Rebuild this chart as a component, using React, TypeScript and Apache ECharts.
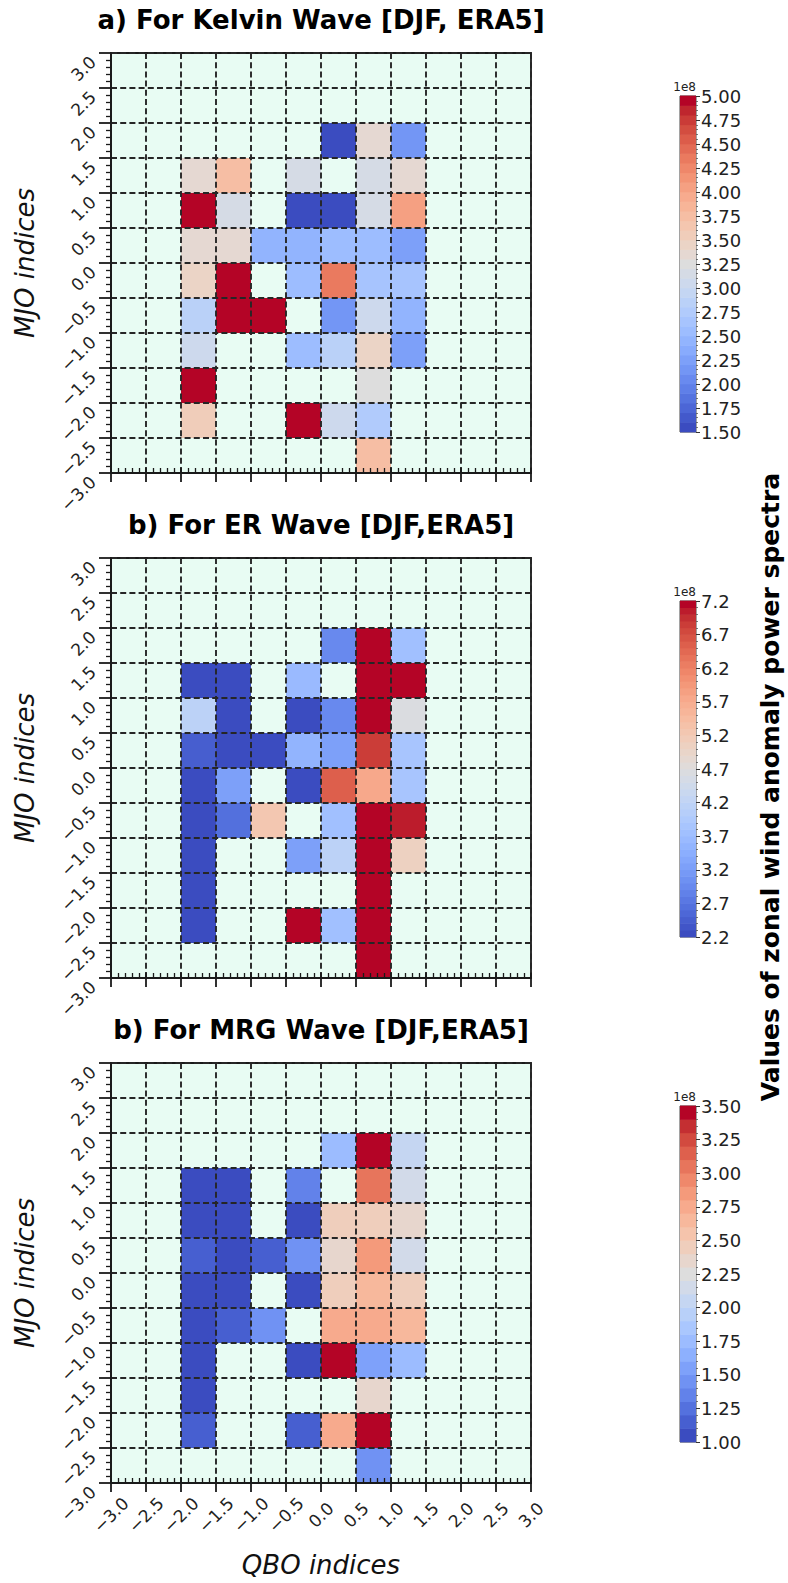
import React, { useEffect, useRef } from "react";
import * as echarts from "echarts";

// ---- tick labels (QBO on x, MJO on y) ----
const qboTicks = [-3.0, -2.5, -2.0, -1.5, -1.0, -0.5, 0.0, 0.5, 1.0, 1.5, 2.0, 2.5, 3.0];
const mjoTicks = [-3.0, -2.5, -2.0, -1.5, -1.0, -0.5, 0.0, 0.5, 1.0, 1.5, 2.0, 2.5, 3.0];

// ---- cells: [QBO bin start, MJO bin start, power (x1e8)] ----
const kelvinCells: [number, number, number][] = [
  [0.0, 1.5, 1.55], [0.5, 1.5, 3.35], [1.0, 1.5, 2.1],
  [-2.0, 1.0, 3.35], [-1.5, 1.0, 3.7], [-0.5, 1.0, 3.15], [0.5, 1.0, 3.15], [1.0, 1.0, 3.35],
  [-2.0, 0.5, 5.3], [-1.5, 0.5, 3.15], [-0.5, 0.5, 1.55], [0.0, 0.5, 1.55], [0.5, 0.5, 3.15], [1.0, 0.5, 4.05],
  [-2.0, 0.0, 3.35], [-1.5, 0.0, 3.35], [-1.0, 0.0, 2.4], [-0.5, 0.0, 2.45], [0.0, 0.0, 2.55], [0.5, 0.0, 2.5], [1.0, 0.0, 2.25],
  [-2.0, -0.5, 3.45], [-1.5, -0.5, 5.3], [-0.5, -0.5, 2.55], [0.0, -0.5, 4.35], [0.5, -0.5, 2.65], [1.0, -0.5, 2.65],
  [-2.0, -1.0, 2.85], [-1.5, -1.0, 5.3], [-1.0, -1.0, 5.3], [0.0, -1.0, 2.15], [0.5, -1.0, 3.05], [1.0, -1.0, 2.45],
  [-2.0, -1.5, 3.05], [-0.5, -1.5, 2.5], [0.0, -1.5, 2.8], [0.5, -1.5, 3.45], [1.0, -1.5, 2.25],
  [-2.0, -2.0, 5.3], [0.5, -2.0, 3.25],
  [-2.0, -2.5, 3.5], [-0.5, -2.5, 5.3], [0.0, -2.5, 3.05], [0.5, -2.5, 2.75],
  [0.5, -3.0, 3.7],
];

const erCells: [number, number, number][] = [
  [0.0, 1.5, 2.9], [0.5, 1.5, 7.5], [1.0, 1.5, 3.75],
  [-2.0, 1.0, 2.1], [-1.5, 1.0, 2.1], [-0.5, 1.0, 3.65], [0.5, 1.0, 7.5], [1.0, 1.0, 7.5],
  [-2.0, 0.5, 4.15], [-1.5, 0.5, 2.1], [-0.5, 0.5, 2.15], [0.0, 0.5, 2.9], [0.5, 0.5, 7.5], [1.0, 0.5, 4.6],
  [-2.0, 0.0, 2.45], [-1.5, 0.0, 2.15], [-1.0, 0.0, 2.15], [-0.5, 0.0, 3.55], [0.0, 0.0, 3.2], [0.5, 0.0, 6.85], [1.0, 0.0, 3.85],
  [-2.0, -0.5, 2.15], [-1.5, -0.5, 3.2], [-0.5, -0.5, 2.15], [0.0, -0.5, 6.55], [0.5, -0.5, 5.7], [1.0, -0.5, 3.85],
  [-2.0, -1.0, 2.15], [-1.5, -1.0, 2.6], [-1.0, -1.0, 5.25], [0.0, -1.0, 3.75], [0.5, -1.0, 7.5], [1.0, -1.0, 7.0],
  [-2.0, -1.5, 2.15], [-0.5, -1.5, 3.2], [0.0, -1.5, 4.1], [0.5, -1.5, 7.5], [1.0, -1.5, 5.05],
  [-2.0, -2.0, 2.15], [0.5, -2.0, 7.5],
  [-2.0, -2.5, 2.15], [-0.5, -2.5, 7.5], [0.0, -2.5, 3.75], [0.5, -2.5, 7.5],
  [0.5, -3.0, 7.5],
];

const mrgCells: [number, number, number][] = [
  [0.0, 1.5, 1.75], [0.5, 1.5, 3.6], [1.0, 1.5, 2.05],
  [-2.0, 1.0, 0.95], [-1.5, 1.0, 0.95], [-0.5, 1.0, 1.3], [0.5, 1.0, 3.0], [1.0, 1.0, 2.15],
  [-2.0, 0.5, 0.95], [-1.5, 0.5, 0.95], [-0.5, 0.5, 0.95], [0.0, 0.5, 2.45], [0.5, 0.5, 2.45], [1.0, 0.5, 2.35],
  [-2.0, 0.0, 1.12], [-1.5, 0.0, 0.95], [-1.0, 0.0, 1.12], [-0.5, 0.0, 1.45], [0.0, 0.0, 2.35], [0.5, 0.0, 2.88], [1.0, 0.0, 2.15],
  [-2.0, -0.5, 0.95], [-1.5, -0.5, 0.95], [-0.5, -0.5, 0.95], [0.0, -0.5, 2.45], [0.5, -0.5, 2.65], [1.0, -0.5, 2.4],
  [-2.0, -1.0, 0.95], [-1.5, -1.0, 1.12], [-1.0, -1.0, 1.45], [0.0, -1.0, 2.72], [0.5, -1.0, 2.72], [1.0, -1.0, 2.62],
  [-2.0, -1.5, 0.95], [-0.5, -1.5, 0.95], [0.0, -1.5, 3.6], [0.5, -1.5, 1.5], [1.0, -1.5, 1.75],
  [-2.0, -2.0, 0.95], [0.5, -2.0, 2.35],
  [-2.0, -2.5, 1.12], [-0.5, -2.5, 1.12], [0.0, -2.5, 2.72], [0.5, -2.5, 3.6],
  [0.5, -3.0, 1.45],
];

const panelTitles = [
  "a) For Kelvin Wave [DJF, ERA5]",
  "b) For ER Wave [DJF,ERA5]",
  "b) For MRG Wave [DJF,ERA5]",
];
const cbarMin = [1.5, 2.2, 1.0];
const cbarMax = [5.0, 7.2, 3.5];
const cbarTickStep = [0.25, 0.5, 0.25];
const cbarDecimals = [2, 1, 2];
const cbarLevels = [35, 50, 25];
const cellSize = 0.5;
const sharedLabel = "Values of zonal wind anomaly power spectra";

// matplotlib "coolwarm" (Moreland) control points
const COOLWARM = [
  [59, 76, 192], [68, 90, 204], [77, 104, 215], [87, 117, 225], [98, 130, 234],
  [108, 142, 241], [119, 154, 247], [130, 165, 251], [141, 176, 254], [152, 185, 255],
  [163, 194, 255], [174, 201, 253], [184, 208, 249], [194, 213, 244], [204, 217, 238],
  [213, 219, 230], [221, 221, 221], [229, 216, 209], [236, 211, 197], [241, 204, 184],
  [245, 196, 172], [247, 187, 160], [247, 177, 148], [247, 166, 137], [244, 154, 123],
  [241, 141, 111], [236, 127, 99], [229, 112, 88], [222, 96, 77], [213, 80, 66],
  [203, 62, 56], [192, 40, 47], [180, 4, 38],
];
function coolwarm(t: number): string {
  const tt = Math.max(0, Math.min(1, t)) * (COOLWARM.length - 1);
  const i = Math.min(COOLWARM.length - 2, Math.floor(tt));
  const f = tt - i;
  const a = COOLWARM[i], b = COOLWARM[i + 1];
  const c = a.map((v, k) => Math.round(v + (b[k] - v) * f));
  return `rgb(${c[0]},${c[1]},${c[2]})`;
}
function levelColor(v: number, p: number): string {
  const n = cbarLevels[p];
  const step = (cbarMax[p] - cbarMin[p]) / n;
  let k = Math.floor((v - cbarMin[p]) / step + 1e-9);
  k = Math.max(0, Math.min(n - 1, k));
  return coolwarm(k / (n - 1));
}

const FONT = "DejaVu Sans";
const INK = "#1a1a1a";
const GRIDINK = "#262626";
const PANEL_LEFT = 111;
const PANEL_SIZE = 420;
const PANEL_TOPS = [53, 558, 1063];
const CB_LEFT = 680;
const CB_W = 16;
const CB_H = 336;
const CB_OFFSET = 43;

function fmtAxis(v: number) {
  return v.toFixed(1).replace("-", "\u2212");
}

export default function App() {
  const ref = useRef<HTMLDivElement>(null);
  useEffect(() => {
    document.body.style.margin = "0";
    if (!ref.current) return;
    const chart = echarts.init(ref.current, undefined, { renderer: "svg" });
    const allCells = [kelvinCells, erCells, mrgCells];
    const grids: any[] = [];
    const xAxes: any[] = [];
    const yAxes: any[] = [];
    const series: any[] = [];
    const graphics: any[] = [];

    for (let p = 0; p < 3; p++) {
      const top = PANEL_TOPS[p];
      grids.push({
        left: PANEL_LEFT, top, width: PANEL_SIZE, height: PANEL_SIZE,
        show: true, backgroundColor: "#e8fcf3", borderColor: INK, borderWidth: 1.8,
      });
      grids.push({
        left: CB_LEFT, top: top + CB_OFFSET, width: CB_W, height: CB_H,
        show: true, backgroundColor: "transparent", borderColor: "#444", borderWidth: 1,
      });
      const gMain = 2 * p, gCb = 2 * p + 1;
      const isLast = p === 2;
      const split = { show: true, lineStyle: { color: GRIDINK, width: 1.9, type: [6, 3.2] } };
      // main x axis
      xAxes.push({
        type: "value", gridIndex: gMain, min: qboTicks[0], max: qboTicks[qboTicks.length - 1],
        interval: cellSize, position: "bottom", z: 5,
        axisLine: { show: true, onZero: false, lineStyle: { color: INK, width: 1.8 } },
        axisTick: { show: true, length: 9, lineStyle: { color: INK, width: 1.8 } },
        minorTick: { show: false },
        splitLine: split,
        axisLabel: {
          show: isLast, rotate: 45, align: "center", verticalAlign: "middle", margin: 32,
          fontSize: 17, color: "#222", fontFamily: FONT, formatter: fmtAxis,
          showMinLabel: true, showMaxLabel: true,
        },
        name: isLast ? "QBO indices" : "", nameLocation: "middle", nameGap: 69,
        nameTextStyle: { fontSize: 26, fontStyle: "italic", color: "#111", fontFamily: FONT },
      });
      // inner minor ticks on x
      xAxes.push({
        type: "value", gridIndex: gMain, min: qboTicks[0], max: qboTicks[qboTicks.length - 1],
        interval: cellSize, position: "bottom", z: 5,
        axisLine: { show: false, onZero: false },
        axisTick: { show: true, inside: true, length: 5, lineStyle: { color: INK, width: 1.8 } },
        minorTick: { show: true, splitNumber: 5, length: 5, lineStyle: { color: INK, width: 1.3 } },
        splitLine: { show: false },
        axisLabel: { show: false },
      });
      // colorbar x axis
      xAxes.push({ type: "value", gridIndex: gCb, min: 0, max: 1, show: false });

      yAxes.push({
        type: "value", gridIndex: gMain, min: mjoTicks[0], max: mjoTicks[mjoTicks.length - 1],
        interval: cellSize, position: "left", z: 5,
        axisLine: { show: true, onZero: false, lineStyle: { color: INK, width: 1.8 } },
        axisTick: { show: true, length: 12, lineStyle: { color: INK, width: 1.8 } },
        minorTick: { show: true, splitNumber: 5, length: 5, lineStyle: { color: INK, width: 1.3 } },
        splitLine: split,
        axisLabel: {
          rotate: 45, align: "right", verticalAlign: "top", margin: 24,
          fontSize: 17, color: "#222", fontFamily: FONT, formatter: fmtAxis,
          showMinLabel: true, showMaxLabel: true,
        },
        name: "MJO indices", nameLocation: "middle", nameGap: 73, nameRotate: 90,
        nameTextStyle: { fontSize: 26, fontStyle: "italic", color: "#111", fontFamily: FONT },
      });
      const dec = cbarDecimals[p];
      yAxes.push({
        type: "value", gridIndex: gCb, min: cbarMin[p], max: cbarMax[p], interval: cbarTickStep[p],
        position: "right", z: 5,
        axisLine: { show: false, onZero: false },
        axisTick: { show: true, length: 4, lineStyle: { color: "#333", width: 1 } },
        minorTick: { show: true, splitNumber: 5, length: 2, lineStyle: { color: "#555", width: 0.8 } },
        splitLine: { show: false },
        axisLabel: {
          margin: 5, fontSize: 18, color: "#222", fontFamily: FONT,
          formatter: (v: number) => v.toFixed(dec), showMinLabel: true, showMaxLabel: true,
        },
        name: "1e8", nameLocation: "end", nameGap: 3,
        nameTextStyle: { fontSize: 12, color: "#222", fontFamily: FONT, align: "right", verticalAlign: "bottom" },
      });

      const pp = p;
      series.push({
        type: "custom", xAxisIndex: 3 * p, yAxisIndex: 2 * p, z: 2,
        data: allCells[p],
        renderItem: (params: any, api: any) => {
          const x0 = api.value(0), y0 = api.value(1), v = api.value(2);
          const a = api.coord([x0, y0 + cellSize]);
          const b = api.coord([x0 + cellSize, y0]);
          return {
            type: "rect",
            shape: { x: a[0], y: a[1], width: b[0] - a[0], height: b[1] - a[1] },
            style: { fill: levelColor(v, pp), stroke: null },
          };
        },
      });
      // colorbar bands (legend rendering of the colour scale)
      const n = cbarLevels[p];
      const step = (cbarMax[p] - cbarMin[p]) / n;
      const bands: number[][] = [];
      for (let k = 0; k < n; k++) bands.push([cbarMin[p] + k * step, cbarMin[p] + (k + 1) * step, k]);
      series.push({
        type: "custom", xAxisIndex: 3 * p + 2, yAxisIndex: 2 * p + 1, z: 2,
        data: bands,
        renderItem: (params: any, api: any) => {
          const lo = api.value(0), hi = api.value(1), k = api.value(2);
          const a = api.coord([0, hi]);
          const b = api.coord([1, lo]);
          return {
            type: "rect",
            shape: { x: a[0], y: a[1] - 0.3, width: b[0] - a[0], height: b[1] - a[1] + 0.6 },
            style: { fill: coolwarm(k / (n - 1)), stroke: null },
          };
        },
      });

      graphics.push({
        type: "text", x: PANEL_LEFT + PANEL_SIZE / 2, y: top - 33,
        style: {
          text: panelTitles[p], fontSize: 26, fontWeight: "bold", fontFamily: FONT,
          fill: "#000", align: "center", verticalAlign: "middle",
        },
      });
    }
    graphics.push({
      type: "text", x: 770, y: 787, rotation: Math.PI / 2,
      style: {
        text: sharedLabel, fontSize: 25, fontWeight: "bold", fontFamily: FONT,
        fill: "#000", align: "center", verticalAlign: "middle",
      },
    });

    chart.setOption({
      animation: false,
      backgroundColor: "#ffffff",
      grid: grids,
      xAxis: xAxes,
      yAxis: yAxes,
      series,
      graphic: graphics,
    });
    return () => chart.dispose();
  }, []);
  return <div ref={ref} style={{ width: 788, height: 1583 }} />;
}
